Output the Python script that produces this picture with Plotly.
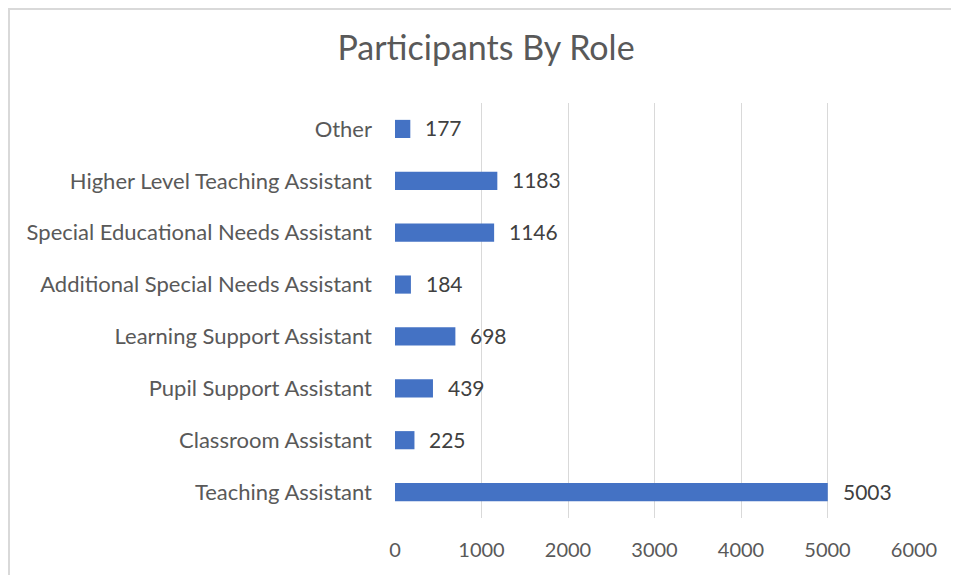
import plotly.graph_objects as go

roles = [
    "Teaching Assistant",
    "Classroom Assistant",
    "Pupil Support Assistant",
    "Learning Support Assistant",
    "Additional Special Needs Assistant",
    "Special Educational Needs Assistant",
    "Higher Level Teaching Assistant",
    "Other",
]
participants = [5003, 225, 439, 698, 184, 1146, 1183, 177]
x_ticks = [0, 1000, 2000, 3000, 4000, 5000, 6000]

FONT = "Lato, 'Open Sans', sans-serif"
GRAY = "#595959"

# page body has an 8px margin; compensate so plot area lands at x 395-914, y 103-518
W, H = 951, 567
L, R, T, B = 387, 45, 95, 57
PW, PH = W - L - R, H - T - B

fig = go.Figure(
    go.Bar(
        x=participants,
        y=roles,
        orientation="h",
        marker=dict(color="#4472C4", line=dict(width=0)),
        width=0.35,
        hoverinfo="x+y",
    )
)

for r, v in zip(roles, participants):
    fig.add_annotation(
        x=v, y=r, text=str(v), showarrow=False,
        xanchor="left", xshift=13, yshift=1,
        font=dict(family=FONT, size=21, color="#404040"),
    )

fig.update_layout(
    width=W,
    height=H,
    paper_bgcolor="white",
    plot_bgcolor="white",
    margin=dict(l=L, r=R, t=T, b=B),
    showlegend=False,
    title=dict(
        text="Participants By Role",
        x=(486 - 8) / W, xanchor="center",
        y=1 - (48 - 8) / H, yanchor="middle",
        font=dict(family=FONT, size=34, color=GRAY),
    ),
    xaxis=dict(
        range=[0, 6000],
        tickvals=x_ticks,
        showgrid=True,
        gridcolor="#D9D9D9",
        gridwidth=1,
        zeroline=False,
        showline=False,
        ticks="",
        tickfont=dict(family=FONT, size=20, color=GRAY),
        ticklabelstandoff=18,
    ),
    yaxis=dict(
        showgrid=False,
        zeroline=False,
        showline=False,
        ticks="",
        ticklabelstandoff=22,
        tickfont=dict(family=FONT, size=22, color=GRAY),
        range=[-0.5, 7.5],
    ),
    shapes=[
        dict(type="rect", xref="paper", yref="paper",
             x0=(-L + 1) / PW, x1=(W - L + 20) / PW,
             y0=-(B + 20) / PH, y1=(H - B - 1) / PH,
             line=dict(color="#D9D9D9", width=2), layer="below")
    ],
)

fig.write_html("out.html")
